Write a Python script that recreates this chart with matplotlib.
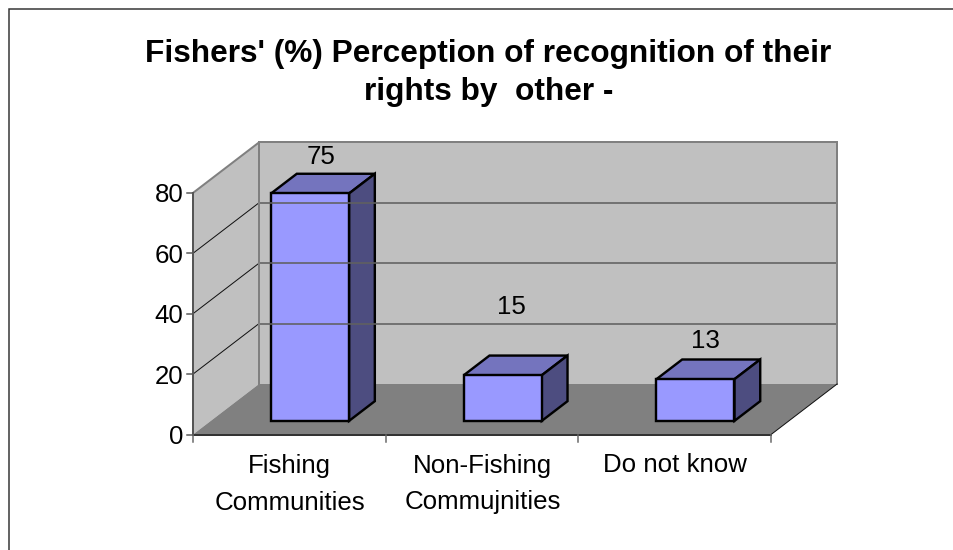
import matplotlib
matplotlib.use("Agg")
import matplotlib.pyplot as plt
from matplotlib.patches import Polygon

plt.rcParams['font.family'] = ['Liberation Sans', 'DejaVu Sans']

# --- data ---
categories = ["Fishing\nCommunities", "Non-Fishing\nCommujnities", "Do not know"]
bar_heights = [75.3, 15.1, 13.8]   # as drawn in the picture
bar_labels = [75, 15, 13]          # as printed above the bars
y_ticks = [0, 20, 40, 60, 80]
title = "Fishers' (%) Perception of recognition of their\nrights by  other -"

# --- data label placement (pixels), hand-moved in the original ---
label_xy = [(321.5, 156.5), (511.5, 307.5), (705.5, 341.5)]

# --- oblique projection: category units, value units, depth 0..1 -> pixels ---
X0, Y0 = 193.0, 434.5
XU, YU = 192.7, 3.02
DX, DY = 66.0, 50.5
BAR_X, BAR_W = 0.3125, 0.405
BAR_D0, BAR_D1 = 0.27, 0.66
YMAX = y_ticks[-1]
NCAT = len(categories)


def P(x, v, d=0.0):
    return (X0 + x * XU + d * DX, Y0 - v * YU - d * DY)


W, H = 954, 550
fig = plt.figure(figsize=(W / 100, H / 100), dpi=100, facecolor="white")
ax = fig.add_axes([0, 0, 1, 1])
ax.set_xlim(0, W)
ax.set_ylim(H, 0)
ax.axis("off")

PX = 0.72  # one pixel in points
FS = 18.6

# chart frame
ax.plot([9, 9, W + 5], [H + 5, 9, 9], color="#333333", lw=1.5 * PX, solid_joinstyle="miter")

# walls and floor
ax.add_patch(Polygon([P(0, 0), P(0, 0, 1), P(0, YMAX, 1), P(0, YMAX)], fc="#C0C0C0", ec="none"))
ax.add_patch(Polygon([P(0, 0, 1), P(NCAT, 0, 1), P(NCAT, YMAX, 1), P(0, YMAX, 1)], fc="#C0C0C0", ec="none"))
ax.add_patch(Polygon([P(0, 0), P(NCAT, 0), P(NCAT, 0, 1), P(0, 0, 1)], fc="#808080", ec="none"))

# gridlines
for t in y_ticks[1:]:
    a, b, c = P(0, t), P(0, t, 1), P(NCAT, t, 1)
    ax.plot([a[0], b[0]], [a[1], b[1]], color="#111111" if t < YMAX else "#808080",
            lw=1.0 * PX if t < YMAX else 2 * PX)
    ax.plot([b[0], c[0]], [b[1], c[1]], color="#606060" if t < YMAX else "#808080",
            lw=1.6 * PX if t < YMAX else 2 * PX)

# wall outlines
for pts in ([P(0, 0, 1), P(0, YMAX, 1)], [P(NCAT, 0, 1), P(NCAT, YMAX, 1)]):
    ax.plot(*zip(*pts), color="#808080", lw=2 * PX)
a, b = P(NCAT, 0), P(NCAT, 0, 1)
ax.plot([a[0], b[0]], [a[1], b[1]], color="#111111", lw=1.0 * PX)

# axes
ax.plot(*zip(P(0, 0), P(0, YMAX)), color="#555555", lw=2 * PX)
ax.plot(*zip(P(0, 0), P(NCAT, 0)), color="#333333", lw=2 * PX)
for t in y_ticks:
    x, y = P(0, t)
    ax.plot([x - 6, x], [y, y], color="#555555", lw=1.5 * PX)
    ax.text(x - 9.5, y, str(t), ha="right", va="center_baseline", fontsize=FS, color="black")
for i in range(NCAT + 1):
    x, y = P(i, 0)
    ax.plot([x, x], [y, y + 7], color="#666666", lw=1.5 * PX)

# bars
for i, v in enumerate(bar_heights):
    x0, x1 = i + BAR_X, i + BAR_X + BAR_W
    kw = dict(ec="black", lw=2.4 * PX, joinstyle="miter")
    ax.add_patch(Polygon([P(x0, v, BAR_D0), P(x1, v, BAR_D0), P(x1, v, BAR_D1), P(x0, v, BAR_D1)],
                         fc="#7474BE", **kw))
    ax.add_patch(Polygon([P(x1, 0, BAR_D0), P(x1, 0, BAR_D1), P(x1, v, BAR_D1), P(x1, v, BAR_D0)],
                         fc="#4D4D80", **kw))
    ax.add_patch(Polygon([P(x0, 0, BAR_D0), P(x1, 0, BAR_D0), P(x1, v, BAR_D0), P(x0, v, BAR_D0)],
                         fc="#9999FF", **kw))
    lx, ly = label_xy[i]
    ax.text(lx, ly, str(bar_labels[i]), ha="center", va="center", fontsize=FS, color="black")

# category labels, one text per line to hold the wide line pitch
for i, c in enumerate(categories):
    x, y = P(i + 0.5, 0)
    for k, line in enumerate(c.split("\n")):
        ax.text(x + 0.5, y + 38 + k * 37, line, ha="center", va="baseline", fontsize=FS, color="black")

# title
ax.text(488.5, 73, title, ha="center", va="center", fontsize=22.8, fontweight="bold",
        color="black", linespacing=1.355)

fig.savefig("out.png", dpi=100, facecolor="white")
